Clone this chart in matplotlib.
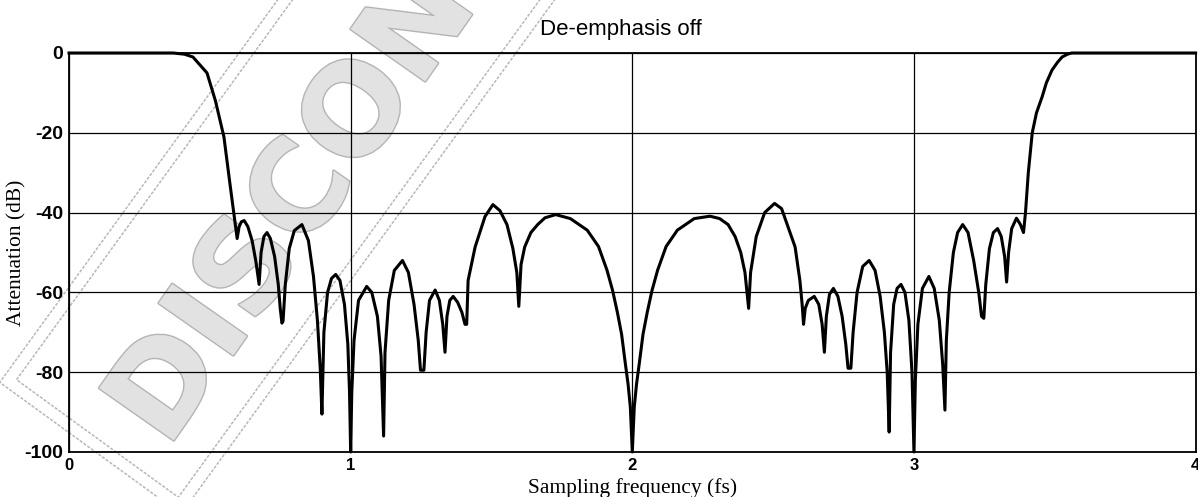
import numpy as np
import matplotlib
matplotlib.use("Agg")
import matplotlib.pyplot as plt
from matplotlib.patches import Polygon
import matplotlib.patheffects as pe

# attenuation curve, frequency in fs, attenuation in dB
freq = [
    0.000, 0.370, 0.410, 0.440, 0.490, 0.520, 0.550, 0.570, 0.587, 0.597,
    0.604, 0.612, 0.622, 0.635, 0.650, 0.663, 0.675,
    0.682, 0.692, 0.703, 0.715, 0.730, 0.743, 0.750, 0.756, 0.760,
    0.768, 0.782, 0.800, 0.827, 0.850, 0.868, 0.882, 0.892, 0.898,
    0.905, 0.918, 0.932, 0.947, 0.962, 0.978, 0.990, 0.996, 1.000,
    1.004, 1.012, 1.028, 1.057, 1.075, 1.095, 1.108, 1.117,
    1.122, 1.135, 1.155, 1.184, 1.205, 1.225, 1.240, 1.248, 1.260,
    1.268, 1.280, 1.300, 1.315, 1.327, 1.335,
    1.342, 1.352, 1.364, 1.380, 1.395, 1.406, 1.412,
    1.417, 1.442, 1.477, 1.505, 1.530, 1.555, 1.576, 1.590, 1.597,
    1.605, 1.618, 1.640, 1.664, 1.690, 1.728, 1.780, 1.840, 1.880, 1.910,
    1.930, 1.947, 1.962, 1.975, 1.985, 1.993, 2.000,
    2.007, 2.015, 2.025, 2.038, 2.053, 2.070, 2.090, 2.120, 2.160, 2.220,
    2.276, 2.310, 2.340, 2.365, 2.385, 2.400, 2.413,
    2.420, 2.440, 2.470, 2.505, 2.530, 2.555, 2.578, 2.595, 2.603, 2.608,
    2.614, 2.625, 2.646, 2.662, 2.674, 2.682,
    2.689, 2.700, 2.714, 2.730, 2.745, 2.758, 2.766, 2.776,
    2.784, 2.798, 2.818, 2.841, 2.862, 2.880, 2.895, 2.905, 2.912,
    2.917, 2.928, 2.940, 2.954, 2.968, 2.982, 2.993, 3.000,
    3.005, 3.014, 3.030, 3.053, 3.072, 3.090, 3.102, 3.110,
    3.115, 3.125, 3.140, 3.155, 3.173, 3.192, 3.212, 3.230, 3.240, 3.248,
    3.255, 3.268, 3.282, 3.297, 3.310, 3.322, 3.329,
    3.336, 3.347, 3.364, 3.378, 3.389,
    3.396, 3.406, 3.420, 3.435, 3.455, 3.470, 3.490, 3.510, 3.526, 3.545,
    3.560, 4.000,
]
atten = [
    0.0, 0.0, -0.3, -1.0, -5.0, -12.0, -21.0, -32.0, -41.0, -46.5,
    -43.5, -42.3, -42.0, -43.5, -47.0, -52.0, -58.0,
    -50.0, -46.0, -45.0, -46.5, -51.0, -58.0, -64.0, -67.7, -67.2,
    -58.0, -49.0, -44.5, -43.0, -47.0, -56.0, -67.0, -79.0, -90.5,
    -70.0, -60.0, -56.5, -55.5, -57.0, -63.0, -73.0, -85.0, -100.0,
    -85.0, -72.0, -62.0, -58.5, -60.0, -66.0, -76.0, -96.0,
    -75.0, -62.0, -54.5, -52.0, -55.0, -63.0, -72.0, -79.5, -79.5,
    -70.0, -62.0, -59.4, -62.0, -68.0, -75.0,
    -66.0, -62.0, -61.0, -62.5, -65.0, -68.0, -68.0,
    -57.0, -48.6, -41.0, -38.0, -39.5, -43.0, -49.0, -55.0, -63.5,
    -53.0, -48.6, -45.0, -43.0, -41.3, -40.5, -41.5, -44.4, -48.5, -54.4,
    -59.5, -65.0, -70.5, -77.7, -83.0, -88.7, -100.0,
    -88.7, -83.0, -77.7, -70.5, -65.0, -59.5, -54.4, -48.5, -44.4, -41.5,
    -40.9, -41.5, -43.0, -46.0, -50.0, -55.0, -64.0,
    -55.0, -46.0, -40.0, -37.7, -39.0, -44.0, -48.6, -57.0, -63.0, -68.0,
    -64.0, -62.0, -61.0, -63.0, -68.0, -75.0,
    -66.0, -60.5, -59.0, -61.0, -66.0, -73.0, -79.0, -79.0,
    -70.0, -60.0, -53.5, -52.0, -54.5, -61.0, -70.0, -80.0, -95.0,
    -75.0, -63.0, -59.0, -58.0, -60.0, -67.0, -80.0, -100.0,
    -82.0, -68.0, -59.0, -56.0, -59.0, -67.0, -78.0, -89.5,
    -72.0, -60.0, -50.0, -45.0, -43.0, -45.0, -52.0, -60.0, -66.0, -66.5,
    -58.0, -49.0, -45.0, -44.0, -46.0, -51.0, -57.4,
    -50.0, -44.0, -41.4, -43.0, -45.0,
    -40.0, -30.0, -20.0, -15.0, -11.0, -7.5, -4.3, -2.3, -1.0, -0.3,
    0.0, 0.0,
]

x_ticks = [0, 1, 2, 3, 4]
y_ticks = [0, -20, -40, -60, -80, -100]

W, H = 1198, 497
fig = plt.figure(figsize=(W / 100, H / 100), dpi=100)
ax = fig.add_axes([69 / W, 45 / H, 0.998 - 69 / W, 399 / H])

ax.plot(freq, atten, color="black", lw=2.2, solid_joinstyle="round",
        clip_on=False, zorder=3)

ax.set_xlim(0, 4)
ax.set_ylim(-100, 0)
ax.set_xticks(x_ticks)
ax.set_yticks(y_ticks)
ax.set_xticklabels([str(t) for t in x_ticks], fontsize=12, fontweight="bold",
                   family="Liberation Sans")
ax.set_yticklabels([str(t) for t in y_ticks], fontsize=14, fontweight="bold",
                   family="Liberation Sans")
ax.tick_params(length=0, pad=4)
ax.grid(True, color="black", lw=0.9)
for s in ax.spines.values():
    s.set_linewidth(1.3)

ax.set_title("De-emphasis off", fontsize=16, family="Liberation Sans",
             x=0.49, pad=13)
ax.set_xlabel("Sampling frequency (fs)", fontsize=15.5, family="Liberation Serif")
ax.xaxis.set_label_coords(0.5, -0.066)
ax.set_ylabel("Attenuation (dB)", fontsize=15.5, family="Liberation Serif")
ax.yaxis.set_label_coords(-0.038, 0.5)

# "DISCONTINUED" stamp watermark, in figure pixels (y down)
ang = np.deg2rad(54)
u = np.array([np.cos(ang), -np.sin(ang)])
n = np.array([np.sin(ang), np.cos(ang)])
c = np.array([416.0, 0.0])


def to_fig(p):
    return (p[0] / W, 1 - p[1] / H)


for hw, hl in [(112, 554), (100, 542)]:
    pts = [to_fig(c + a * hl * u + b * hw * n)
           for a, b in [(1, 1), (1, -1), (-1, -1), (-1, 1)]]
    ax.add_patch(Polygon(pts, closed=True, fill=False, ec="#b8b8b8", lw=1.1,
                         ls=(0, (2, 1)), transform=fig.transFigure,
                         clip_on=False, zorder=0.5))

ax.text(139 / W, 1 - 430 / H, "DISCONTINUED", transform=fig.transFigure,
        rotation=55, rotation_mode="anchor", ha="left", va="center",
        fontsize=90, fontweight="bold", family="DejaVu Sans", color="#e2e2e2",
        path_effects=[pe.withStroke(linewidth=2, foreground="#b4b4b4")],
        clip_on=False, zorder=0.6)

fig.savefig("out.png", dpi=100)
